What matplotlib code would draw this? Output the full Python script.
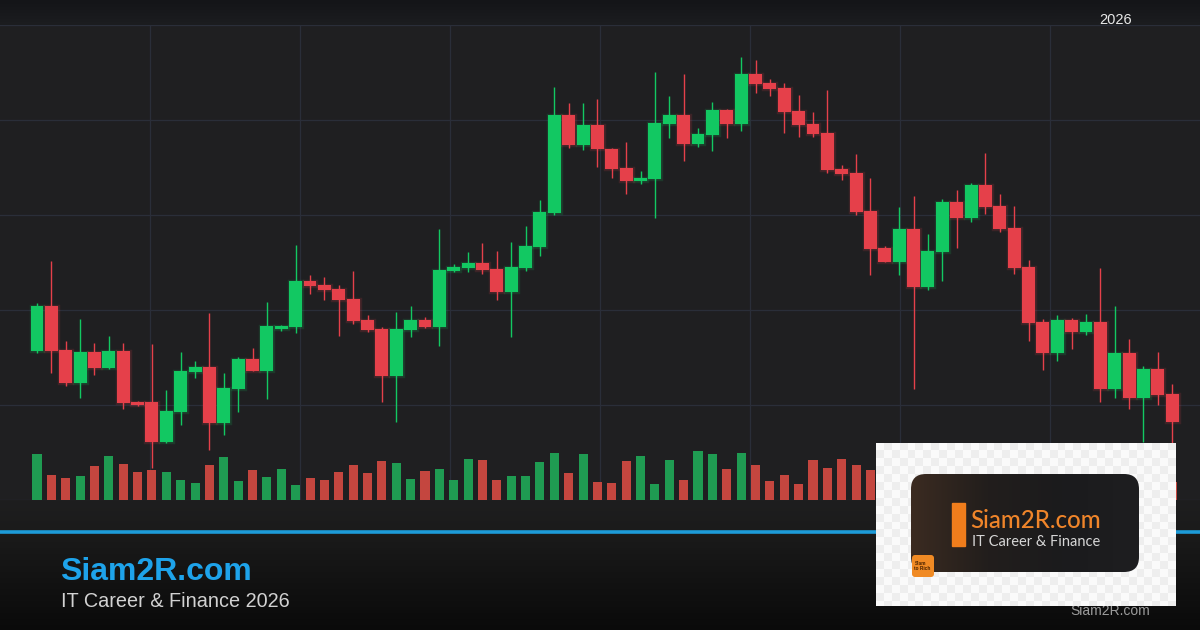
import numpy as np
import matplotlib
matplotlib.use('Agg')
import matplotlib.pyplot as plt
from matplotlib.patches import FancyBboxPatch, Rectangle
from matplotlib.colors import ListedColormap, LinearSegmentedColormap, to_rgb

# OHLC + volume (arbitrary price units)
opens = [115.72, 120.42, 115.79, 112.35, 115.58, 113.93, 115.68, 110.32, 110.32, 106.14,
         109.29, 113.51, 114.00, 108.14, 111.72, 114.84, 113.58, 118.00, 118.24, 123.05,
         122.63, 122.18, 121.16, 118.95, 118.00, 113.08, 117.93, 118.95, 118.21, 124.11,
         124.45, 124.95, 124.32, 121.93, 124.45, 126.66, 130.21, 140.53, 137.42, 139.47,
         136.95, 134.95, 133.61, 133.82, 139.61, 140.53, 137.47, 138.45, 141.05, 139.58,
         144.84, 143.93, 143.37, 140.95, 139.58, 138.63, 134.84, 134.42, 130.42, 126.56,
         125.08, 128.53, 122.45, 126.14, 131.37, 129.72, 133.16, 130.95, 128.63, 124.53,
         118.71, 115.51, 118.95, 117.72, 118.71, 111.72, 115.47, 110.77, 113.79, 111.16]
highs = [120.71, 125.16, 116.74, 119.05, 116.53, 117.23, 116.53, 110.45, 116.42, 111.58,
         115.58, 114.63, 119.68, 113.37, 115.05, 116.03, 120.84, 118.37, 126.84, 123.68,
         123.47, 122.63, 124.11, 119.47, 118.21, 119.76, 120.39, 119.23, 128.53, 124.81,
         126.11, 127.05, 126.21, 127.16, 128.84, 131.58, 143.44, 141.79, 141.79, 142.18,
         137.08, 137.68, 134.63, 145.02, 142.53, 144.84, 139.16, 141.89, 141.19, 146.63,
         146.32, 144.35, 143.89, 142.63, 140.84, 143.16, 135.26, 136.42, 133.89, 126.74,
         130.81, 132.00, 128.00, 131.68, 132.63, 133.40, 136.53, 132.21, 130.95, 125.26,
         119.08, 119.47, 119.19, 119.61, 124.45, 120.45, 116.92, 114.11, 115.61, 112.24]
lows = [115.51, 113.40, 112.03, 110.77, 113.19, 113.79, 109.61, 109.93, 103.40, 106.03,
        107.93, 112.87, 105.29, 106.84, 109.29, 113.53, 110.66, 117.82, 117.63, 121.65,
        121.08, 117.29, 118.56, 117.65, 110.35, 108.24, 117.19, 118.11, 116.24, 124.03,
        124.00, 123.82, 121.08, 117.19, 124.14, 125.72, 130.05, 137.08, 136.87, 135.08,
        133.93, 132.24, 133.29, 129.72, 138.14, 135.72, 137.19, 136.77, 138.11, 138.84,
        142.84, 142.56, 138.63, 138.21, 138.21, 134.45, 133.71, 130.03, 123.72, 125.05,
        123.72, 111.72, 122.14, 123.08, 126.56, 129.29, 130.14, 128.24, 123.82, 116.77,
        113.72, 114.66, 115.93, 117.40, 110.35, 110.77, 109.61, 106.11, 110.03, 105.79]
closes = [120.42, 115.72, 112.35, 115.58, 113.93, 115.68, 110.24, 110.03, 106.14, 109.37,
          113.58, 114.00, 108.14, 111.79, 114.84, 113.61, 118.32, 118.32, 123.05, 122.56,
          122.14, 121.05, 118.87, 117.93, 113.08, 118.00, 118.95, 118.21, 124.21, 124.49,
          124.95, 124.24, 121.93, 124.49, 126.74, 130.32, 140.53, 137.42, 139.47, 136.92,
          134.87, 133.61, 133.89, 139.68, 140.53, 137.47, 138.53, 141.05, 139.58, 144.84,
          143.82, 143.26, 140.87, 139.47, 138.53, 134.77, 134.35, 130.32, 126.45, 125.08,
          128.53, 122.45, 126.21, 131.37, 129.72, 133.16, 130.87, 128.53, 124.45, 118.66,
          115.51, 118.95, 117.72, 118.71, 111.72, 115.47, 110.77, 113.79, 111.08, 108.24]
volumes = [920, 500, 446, 480, 680, 880, 720, 560, 600, 560,
           400, 340, 700, 860, 380, 600, 460, 620, 300, 450,
           394, 554, 694, 534, 774, 734, 414, 574, 614, 394,
           814, 794, 394, 474, 474, 754, 934, 534, 914, 354,
           334, 774, 874, 314, 794, 394, 974, 914, 614, 934,
           694, 374, 494, 314, 794, 634, 814, 694, 600, 520,
           700, 880, 640, 760, 480, 820, 560, 620, 740, 680,
           540, 420, 460, 900, 720, 780, 580, 640, 500, 366]

title = 'Siam2R.com'
subtitle = 'IT Career & Finance 2026'
year_label = '2026'
logo_title = 'Siam2R.com'
logo_sub = 'IT Career & Finance'
badge_text = 'Siam\nto Rich'

W, H = 1200, 630
X0, STEP = 37, 14.37       # first candle centre and spacing in pixels
UP, DOWN = '#12c862', '#e5404a'
VOL_UP, VOL_DOWN = '#1f9b52', '#c4463f'
GRID = '#2a2e39'
FONT = ['Liberation Sans', 'DejaVu Sans']

plt.rcParams['font.family'] = FONT

fig = plt.figure(figsize=(W / 100, H / 100), dpi=100)

# background gradient, pixel coordinates
bg = fig.add_axes([0, 0, 1, 1])
stop_y = [0, 25, 26, 500, 530, 630]
stop_c = ['#141518', '#1c1d20', '#1f1f21', '#1e1e1f', '#1b1b1b', '#0a0a0a']
rows = np.arange(H)
grad = np.stack([np.interp(rows, stop_y, [to_rgb(c)[k] for c in stop_c]) for k in range(3)], axis=-1)
bg.imshow(grad[:, None, :], extent=[0, W, H, 0], aspect='auto')
bg.set_xlim(0, W)
bg.set_ylim(H, 0)
bg.axis('off')
bg.axhline(532, color='#1d9bd8', lw=2.6)
bg.text(1116, 20, year_label, ha='center', va='center', fontsize=10.5, color='#e8e8e8')
bg.text(60, 580, title, ha='left', va='baseline', fontsize=23, fontweight='bold', color='#1ea3ea')
bg.text(61, 607, subtitle, ha='left', va='baseline', fontsize=14.3, color='#d2d2d2')
bg.text(1110, 611, title, ha='center', va='center', fontsize=10, color='#9c9c9c')

# price chart
ax = fig.add_axes([0, 130 / H, 1, 475 / H])
ax.set_facecolor('#1f1f21')
x = np.arange(len(opens))
o = np.array(opens)
c = np.array(closes)
up = c >= o
colors = np.where(up, UP, DOWN)
ax.vlines(x, lows, highs, colors=colors, lw=1.0, zorder=3)
body_h = np.maximum(np.abs(c - o), 0.12)
ax.bar(x, body_h, bottom=np.minimum(o, c), width=0.9, color=colors,
       edgecolor=colors, linewidth=2.5, alpha=0.15, zorder=3)
ax.bar(x, body_h, bottom=np.minimum(o, c), width=0.9, color=colors, zorder=4)
ax.set_xlim(-X0 / STEP, (W - X0) / STEP)
ax.set_ylim(100, 150)
ax.set_yticks(np.arange(100, 151, 10))
ax.set_xticks([(px - X0) / STEP for px in range(150, 1051, 150)])
ax.grid(True, color=GRID, lw=0.9)
ax.tick_params(length=0, labelleft=False, labelbottom=False)
for s in ax.spines.values():
    s.set_visible(False)

# volume overlay
vax = ax.twinx()
vax.bar(x, volumes, width=0.63, color=np.where(up, VOL_UP, VOL_DOWN), zorder=2)
vax.set_ylim(0, 9500)
vax.axis('off')

# logo card, bottom right
lax = fig.add_axes([876 / W, (H - 606) / H, 300 / W, 163 / H])
lax.set_xlim(0, 300)
lax.set_ylim(163, 0)
lax.axis('off')
cells = np.indices((21, 38)).sum(axis=0) % 2
lax.imshow(cells, cmap=ListedColormap(['#fafafa', '#eeeeee']), extent=[0, 300, 166, 0],
           aspect='auto', interpolation='nearest')
card = FancyBboxPatch((35, 31), 228, 98, boxstyle='round,pad=0,rounding_size=15',
                      facecolor='none', edgecolor='none')
lax.add_patch(card)
cmap = LinearSegmentedColormap.from_list('card', ['#3b2b21', '#221e1c', '#1b1b1d', '#1e1e20'])
im = lax.imshow(np.linspace(0, 1, 200)[None, :], cmap=cmap, extent=[35, 263, 129, 31],
                aspect='auto', interpolation='bilinear')
im.set_clip_path(card)
lax.add_patch(Rectangle((76, 60), 13, 43, color='#f07d1c'))
lax.text(94, 85, logo_title, ha='left', va='baseline', fontsize=17.3, fontweight='medium',
         color='#f0852a', family=['Lato', 'DejaVu Sans'])
lax.text(96, 103, logo_sub, ha='left', va='baseline', fontsize=10.5,
         color='#d6d6d6', family=['Lato', 'DejaVu Sans'])
lax.add_patch(FancyBboxPatch((36, 112), 22, 22, boxstyle='round,pad=0,rounding_size=3',
                             facecolor='#f08a24', edgecolor='none'))
lax.text(38.5, 123, badge_text, ha='left', va='center', fontsize=3.4, color='#4a2200',
         linespacing=1.0, fontweight='bold')

fig.savefig('out.png', dpi=100)
